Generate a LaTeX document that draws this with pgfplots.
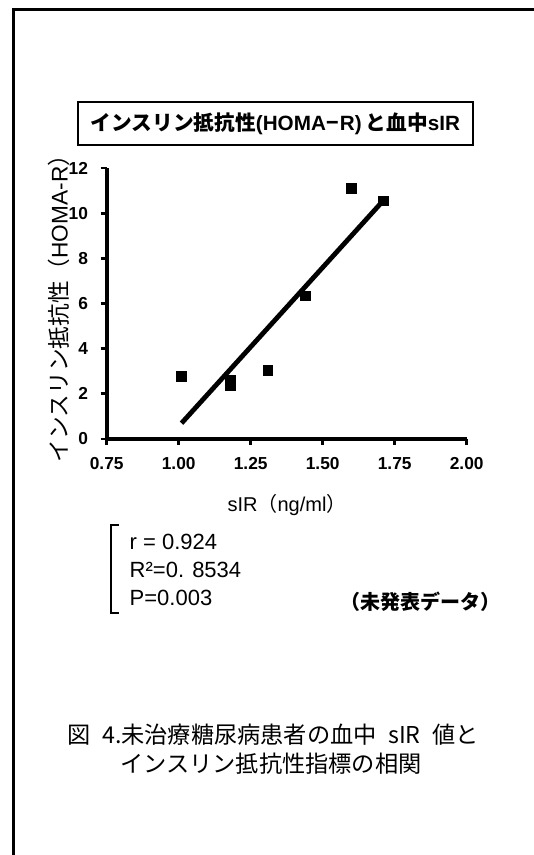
\documentclass[border=0pt]{standalone}
\usepackage{fontspec}
\usepackage{pgfplots}
\pgfplotsset{compat=1.18}
\pgfplotsset{
  every outer x axis line/.append style={line width=3.2pt, -},
  every outer y axis line/.append style={line width=3.2pt, -},
  every major tick/.append style={line width=2.2pt, black},
}
\setmainfont{Liberation Sans}
\newfontfamily\jp{Noto Sans CJK JP}
\begin{document}
\begin{tikzpicture}
\useasboundingbox (0pt,0pt) rectangle (400.5pt,641.25pt);
% outer frame (cropped at right and bottom)
\draw[line width=2.25pt] (10.1pt,0pt) -- (10.1pt,633.75pt) -- (400.5pt,633.75pt);
% title box
\draw[line width=1.1pt] (58.5pt,564.75pt) rectangle (354.75pt,532.5pt);
\node at (206.6pt,548.65pt) {\fontsize{15.5}{18}\selectfont\bfseries{\jp インスリン抵抗性}(HOMA\kern0.5pt{\jp −}\kern0.5pt R)\hspace{0.2em}{\jp と血中}sIR};
\begin{axis}[
  at={(80pt,312pt)}, anchor=south west,
  scale only axis, width=270pt, height=203.25pt,
  xmin=0.75, xmax=2, ymin=0, ymax=12,
  axis x line=bottom, axis y line=left,
  axis line style={-, line width=3.2pt},
  xtick={0.75,1,1.25,1.5,1.75,2},
  xticklabels={0.75,1.00,1.25,1.50,1.75,2.00},
  ytick={0,2,4,6,8,10,12},
  yticklabels={0,2,4,6,8,10,12},
  tick align=outside, major tick length=4.5pt,
  major tick style={line width=2.2pt, black},
  tick label style={font=\fontsize{13}{15}\selectfont\bfseries},
  xticklabel style={yshift=-6pt},
  yticklabel style={xshift=-6pt},
  clip=false,
]
\addplot[black, line width=3.6pt] coordinates {(1.01,0.70) (1.71,10.55)};
\addplot[only marks, mark=square*, mark size=3.6pt, black, mark options={line width=0.4pt}] coordinates {
(1.01,2.78) (1.18,2.60) (1.18,2.38) (1.31,3.05) (1.44,6.35) (1.60,11.10) (1.71,10.55)};
\end{axis}
% y label
\node[rotate=90] at (44.2pt,414pt) {\fontsize{17}{19}\selectfont{\jp インスリン抵抗性（}HOMA-R{\jp ）}};
% x label
\node at (215.25pt,262.5pt) {\fontsize{15}{18}\selectfont sIR{\jp （}ng/ml{\jp ）}};
% bracket
\draw[line width=2.2pt] (89.25pt,247.5pt) -- (83.25pt,247.5pt) -- (83.25pt,181.5pt) -- (89.25pt,181.5pt);
\node[anchor=west] at (93.75pt,234.75pt) {\fontsize{16.5}{18}\selectfont r = 0.924};
\node[anchor=west] at (93.75pt,213.75pt) {\fontsize{16.5}{18}\selectfont R²=0. 8534};
\node[anchor=west] at (93.75pt,192.75pt) {\fontsize{16.5}{18}\selectfont P=0.003};
\node at (315pt,189.75pt) {\fontsize{15}{18}\selectfont\bfseries\jp （未発表データ）};
% caption
\node at (204.75pt,90pt) {\fontsize{17.4}{20}\selectfont\jp 図\hspace{0.5em}4.未治療糖尿病患者の血中\hspace{0.5em}sIR\hspace{0.5em}値と};
\node at (203.25pt,68.25pt) {\fontsize{17.4}{20}\selectfont\jp インスリン抵抗性指標の相関};
\end{tikzpicture}
\end{document}
